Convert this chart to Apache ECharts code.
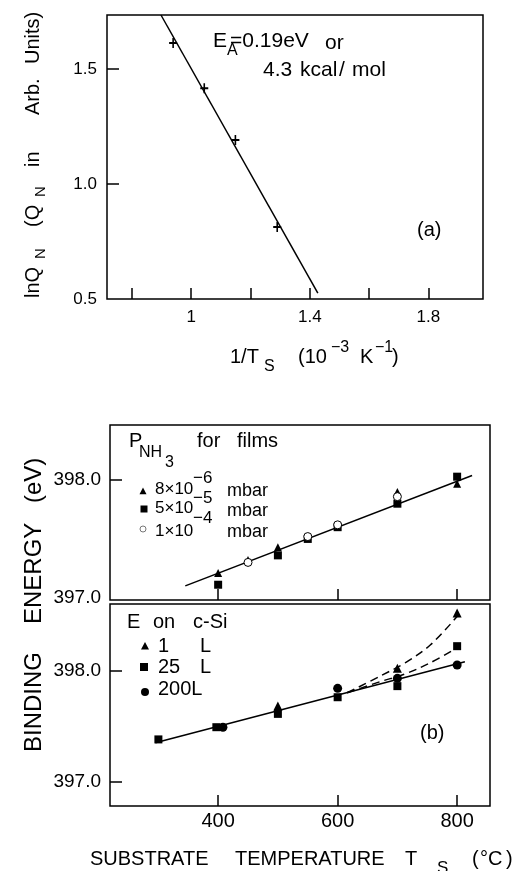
<!DOCTYPE html>
<html>
<head>
<meta charset="utf-8">
<script src="https://cdn.jsdelivr.net/npm/echarts@6/dist/echarts.min.js"></script>
<style>
html, body { margin: 0; padding: 0; background: #fff; }
#chart { width: 529px; height: 871px; }
</style>
</head>
<body>
<div id="chart"></div>
<script>
// (a) ln Q_N against 1/T_S
const invT = [0.939, 1.044, 1.149, 1.290];
const lnQ = [1.613, 1.417, 1.191, 0.813];
const fitInvT = [0.898, 1.427];
const fitLnQ = [1.735, 0.526];
const aXTicks = [0.8, 1.0, 1.2, 1.4, 1.6, 1.8];
const aXLabels = [1.0, 1.4, 1.8];
const aYTicks = [1.0, 1.5];
const aYLabels = [0.5, 1.0, 1.5];

// (b) upper panel: films at different P_NH3
const filmTriT = [400, 450, 500, 700, 800];
const filmTriE = [397.21, 397.32, 397.43, 397.90, 397.97];
const filmSqT = [400, 500, 550, 600, 700, 800];
const filmSqE = [397.11, 397.36, 397.50, 397.60, 397.80, 398.03];
const filmCircT = [450, 550, 600, 700];
const filmCircE = [397.30, 397.52, 397.62, 397.86];
const filmFitT = [345, 825];
const filmFitE = [397.10, 398.04];

// (b) lower panel: exposure on c-Si
const siTriT = [500, 700, 800];
const siTriE = [397.68, 398.02, 398.52];
const siSqT = [300, 397, 500, 600, 700, 800];
const siSqE = [397.38, 397.49, 397.61, 397.76, 397.86, 398.22];
const siCircT = [408, 600, 700, 800];
const siCircE = [397.49, 397.84, 397.93, 398.05];
const siFitT = [295, 813];
const siFitE = [397.35, 398.08];
const dash1T = [616, 671, 713, 755, 802];
const dash1E = [397.80, 397.95, 398.07, 398.23, 398.50];
const dash2T = [616, 671, 713, 755, 805];
const dash2E = [397.80, 397.90, 397.97, 398.07, 398.22];

const bXTicks = [400, 600, 800];
const bYLabels = [397, 398];

const FONT = '"Liberation Sans", Arial, sans-serif';
const zip = (a, b) => a.map((v, i) => [v, b[i]]);

function txt(x, y, s, size, align) {
  return {
    type: 'text', x: x, y: y, z: 10,
    style: { text: s, fontSize: size, fontFamily: FONT, fill: '#000',
      align: align || 'left', verticalAlign: 'middle' }
  };
}
function tri(x, y, r) {
  return { type: 'polygon', z: 10, shape: { points: [[x - r, y + r * 0.9], [x + r, y + r * 0.9], [x, y - r]] }, style: { fill: '#000' } };
}
function sq(x, y, r) {
  return { type: 'rect', z: 10, shape: { x: x - r, y: y - r, width: 2 * r, height: 2 * r }, style: { fill: '#000' } };
}
function dot(x, y, r, open) {
  return { type: 'circle', z: 10, shape: { cx: x, cy: y, r: r },
    style: open ? { fill: '#fff', stroke: '#777', lineWidth: 1 } : { fill: '#000' } };
}

const plusPath = 'path://M4,0 H6 V4 H10 V6 H6 V10 H4 V6 H0 V4 H4 Z';

const tickStyle = { color: '#000', width: 1.5 };
function xAx(grid, min, max, ticks, labels, fmt, size, margin, showLabel) {
  return {
    gridIndex: grid, type: 'value', min: min, max: max,
    axisLine: { show: false }, splitLine: { show: false },
    axisTick: { show: true, inside: true, length: 11, customValues: ticks, lineStyle: tickStyle },
    axisLabel: { show: showLabel, customValues: labels, formatter: fmt, fontSize: size,
      fontFamily: FONT, color: '#000', margin: margin }
  };
}
function yAx(grid, min, max, ticks, labels, fmt, size, margin) {
  return {
    gridIndex: grid, type: 'value', min: min, max: max,
    axisLine: { show: false }, splitLine: { show: false },
    axisTick: { show: true, inside: true, length: 12, customValues: ticks, lineStyle: tickStyle },
    axisLabel: { customValues: labels, formatter: fmt, fontSize: size,
      fontFamily: FONT, color: '#000', margin: margin }
  };
}

const gridBox = { show: true, borderColor: '#000', borderWidth: 1.5, backgroundColor: 'transparent' };
const blackLine = { color: '#000', width: 1.5 };

function scatter(xi, data, symbol, size, open) {
  return {
    type: 'scatter', xAxisIndex: xi, yAxisIndex: xi, data: data, symbol: symbol, symbolSize: size, z: 5,
    itemStyle: open ? { color: '#fff', borderColor: '#000', borderWidth: 1, opacity: 1 } : { color: '#000', opacity: 1 }
  };
}
function line(xi, data, dashed, smooth) {
  return {
    type: 'line', xAxisIndex: xi, yAxisIndex: xi, data: data, symbol: 'none', smooth: smooth || false, z: 3,
    lineStyle: dashed ? { color: '#000', width: 1.5, type: [8, 5] } : blackLine
  };
}

const chart = echarts.init(document.getElementById('chart'), null, { renderer: 'canvas' });
chart.setOption({
  animation: false,
  backgroundColor: '#fff',
  grid: [
    Object.assign({ left: 107, top: 15, width: 376, height: 284 }, gridBox),
    Object.assign({ left: 110, top: 425, width: 380, height: 175 }, gridBox),
    Object.assign({ left: 110, top: 604, width: 380, height: 202 }, gridBox)
  ],
  xAxis: [
    xAx(0, 0.716, 1.984, aXTicks, aXLabels, v => (v === 1 ? '1' : v.toFixed(1)), 17, 10, true),
    xAx(1, 219, 855, bXTicks, bXTicks, v => String(v), 20, 6, false),
    xAx(2, 219, 855, bXTicks, bXTicks, v => String(v), 20, 5, true)
  ],
  yAxis: [
    yAx(0, 0.5, 1.735, aYTicks, aYLabels, v => v.toFixed(1), 17, 10),
    yAx(1, 396.98, 398.47, [398], bYLabels, v => v.toFixed(1), 19, 9),
    yAx(2, 396.78, 398.60, bYLabels, bYLabels, v => v.toFixed(1), 19, 9)
  ],
  series: [
    line(0, zip(fitInvT, fitLnQ)),
    scatter(0, zip(invT, lnQ), plusPath, [8, 10]),

    line(1, zip(filmFitT, filmFitE)),
    scatter(1, zip(filmSqT, filmSqE), 'rect', 8),
    scatter(1, zip(filmTriT, filmTriE), 'triangle', 8),
    scatter(1, zip(filmCircT, filmCircE), 'circle', 8, true),

    line(2, zip(siFitT, siFitE)),
    line(2, zip(dash1T, dash1E), true, 0.35),
    line(2, zip(dash2T, dash2E), true, 0.35),
    scatter(2, zip(siSqT, siSqE), 'rect', 8),
    scatter(2, zip(siTriT, siTriE), 'triangle', 9),
    scatter(2, zip(siCircT, siCircE), 'circle', 9)
  ],
  graphic: [
    // (a) annotation
    txt(213, 41, 'E', 21), txt(227, 51, 'A', 16), txt(230, 41, '=0.19eV', 21), txt(325, 43, 'or', 21),
    txt(263, 70, '4.3', 21), txt(300, 70, 'kcal', 21), txt(339, 70, '/', 21), txt(352, 70, 'mol', 21),
    txt(417, 230, '(a)', 20),
    // (a) x title
    txt(230, 357, '1/T', 20), txt(264, 367, 'S', 16), txt(298, 357, '(10', 20), txt(331, 348, '\u22123', 16),
    txt(360, 357, 'K', 20), txt(375, 348, '\u22121', 16), txt(392, 357, ')', 20),
    // (a) y title
    { type: 'group', x: 33, y: 298, rotation: Math.PI / 2, children: [
      txt(0, 0, 'lnQ', 20), txt(39, 8, 'N', 15), txt(71, 0, '(Q', 20), txt(101, 8, 'N', 15),
      txt(131, 0, 'in', 20), txt(183, 0, 'Arb.', 20), txt(234, 0, 'Units)', 20)
    ] },
    // (b) upper legend
    txt(129, 441, 'P', 20), txt(139, 453, 'NH', 16), txt(165, 463, '3', 16),
    txt(197, 441, 'for', 20), txt(237, 441, 'films', 20),
    tri(143, 491, 3.5), sq(144, 509, 3.5), dot(143, 529, 3, true),
    txt(155, 489, '8\u00d710', 17), txt(193, 478, '\u22126', 17), txt(227, 491, 'mbar', 18),
    txt(155, 508, '5\u00d710', 17), txt(193, 498, '\u22125', 17), txt(227, 511, 'mbar', 18),
    txt(155, 531, '1\u00d710', 17), txt(193, 518, '\u22124', 17), txt(227, 532, 'mbar', 18),
    // (b) lower legend
    txt(127, 622, 'E', 20), txt(153, 622, 'on', 20), txt(193, 622, 'c-Si', 20),
    tri(145, 646, 4), sq(144, 667, 4), dot(145, 692, 4),
    txt(158, 646, '1', 20), txt(200, 646, 'L', 20),
    txt(158, 667, '25', 20), txt(200, 667, 'L', 20),
    txt(158, 689, '200L', 20),
    txt(420, 733, '(b)', 20),
    // (b) y title
    { type: 'group', x: 34, y: 752, rotation: Math.PI / 2, children: [
      txt(0, 0, 'BINDING', 24), txt(128, 0, 'ENERGY', 24), txt(249, 0, '(eV)', 24)
    ] },
    // (b) x title
    txt(90, 859, 'SUBSTRATE', 20), txt(235, 859, 'TEMPERATURE', 20),
    txt(405, 859, 'T', 20), txt(437, 868, 'S', 17),
    txt(472, 859, '(', 20), txt(480, 859, '\u00b0C', 20), txt(506, 859, ')', 20)
  ]
});
</script>
</body>
</html>
